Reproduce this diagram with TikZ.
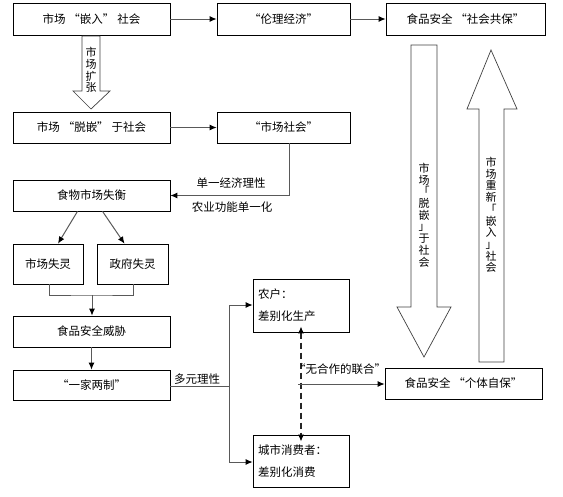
\documentclass[tikz,border=0pt]{standalone}
\usepackage{fontspec}
\setmainfont{Noto Sans CJK SC}
\usetikzlibrary{arrows.meta,calc}
\newcommand\oqt{\hspace{0.25em}“}
\newcommand\cqt{”\hspace{0.25em}}
\begin{document}
\begin{tikzpicture}[x=1pt,y=-1pt,
  box/.style={draw=black,line width=0.7pt,rectangle,inner sep=0pt,font=\fontsize{11.5}{13}\selectfont},
  conn/.style={draw=black!65,line width=1pt,-{Latex[length=7pt,width=6pt,black]}},
  lab/.style={font=\fontsize{11.5}{13}\selectfont,inner sep=0pt},
  vtext/.style={font=\fontsize{11}{11.7}\selectfont,align=center,inner sep=0pt},
  blockarrow/.style={draw=black!75,line width=0.7pt,fill=white}]
\useasboundingbox (0,0) rectangle (563,496);
% boxes
\node[box,minimum width=157,minimum height=32] (b1) at (91.5,19) {市场\oqt 嵌入\cqt 社会};
\node[box,minimum width=133,minimum height=32] (b2) at (283.5,19) {“伦理经济”};
\node[box,minimum width=159,minimum height=32] (b3) at (465.5,19) {食品安全\oqt 社会共保”};
\node[box,minimum width=157,minimum height=31] (b4) at (91.5,127.5) {市场\oqt 脱嵌\cqt 于社会};
\node[box,minimum width=133,minimum height=31] (b5) at (283.5,127.5) {“市场社会”};
\node[box,minimum width=157,minimum height=31] (b6) at (91.5,195.5) {食物市场失衡};
\node[box,minimum width=70,minimum height=40] (b7) at (48,264) {市场失灵};
\node[box,minimum width=71,minimum height=40] (b8) at (132.5,264) {政府失灵};
\node[box,minimum width=157,minimum height=31] (b9) at (91.5,331.5) {食品安全威胁};
\node[box,minimum width=157,minimum height=30] (b10) at (91.5,385) {“一家两制”};
\node[box,minimum width=96,minimum height=53,align=left,text width=86,font=\fontsize{11.5}{22}\selectfont] (b11) at (301,305.5) {农户：\\差别化生产};
\node[box,minimum width=96,minimum height=52,align=left,text width=86,font=\fontsize{11.5}{22}\selectfont] (b12) at (301,461) {城市消费者：\\差别化消费};
\node[box,minimum width=157,minimum height=31] (b13) at (463.5,383.5) {食品安全\oqt 个体自保”};

% block arrows
\draw[blockarrow] (82,36) -- (100,36) -- (100,91) -- (110,91) -- (91,109) -- (73,91) -- (82,91) -- cycle;
\node[vtext] (t1) at (91,70) {市\\场\\扩\\张};
\draw[blockarrow] (411,45) -- (437,45) -- (437,307) -- (451,307) -- (424,357) -- (397,307) -- (411,307) -- cycle;
\node[vtext] (t2) at (424,215) {市\\场\\「\\脱\\嵌\\」\\于\\社\\会};
\draw[blockarrow] (479,362) -- (504,362) -- (504,109) -- (517,109) -- (491,50) -- (467,109) -- (479,109) -- cycle;
\node[vtext] (t3) at (491,215) {市\\场\\重\\新\\「\\嵌\\入\\」\\社\\会};

% connectors
\draw[conn] (b1) -- (b2);
\draw[conn] (b2) -- (b3);
\draw[conn] (b4) -- (b5);
\draw[conn] ([xshift=6]b5.south) |- (b6.east);
\node[lab] (l1) at (231,183) {单一经济理性};
\node[lab] (l2) at (232,207) {农业功能单一化};
\draw[conn] ([xshift=-14]b6.south) -- ([xshift=10]b7.north);
\draw[conn] ([xshift=11]b6.south) -- ([xshift=-8]b8.north);
\coordinate (m) at (92,295);
\draw[draw=black!65,line width=1pt] ([xshift=1]b7.south) |- (m) -| ([xshift=1]b8.south);
\draw[conn] (m) -- (b9.north -| m);
\draw[conn] (b9) -- (b10);
\coordinate (s) at (229,386);
\draw[draw=black!65,line width=1pt] (b10.east |- s) -- (s);
\draw[conn] (s) |- (b11.west |- 0,305);
\draw[conn] (s) |- (b12.west |- 0,462);
\node[lab] (l3) at (197,379) {多元理性};
\draw[line width=1.5pt,dash pattern=on 6pt off 4pt,black!85,{Latex[length=7pt,width=6pt,black]}-{Latex[length=7pt,width=6pt,black]}] ([yshift=6]b11.south) -- ([yshift=-7]b12.north);
\coordinate (u) at (298,384);
\draw[conn] (u) -- (b13.west |- u);
\node[lab] (l4) at (340,369) {“无合作的联合”};
\end{tikzpicture}
\end{document}
